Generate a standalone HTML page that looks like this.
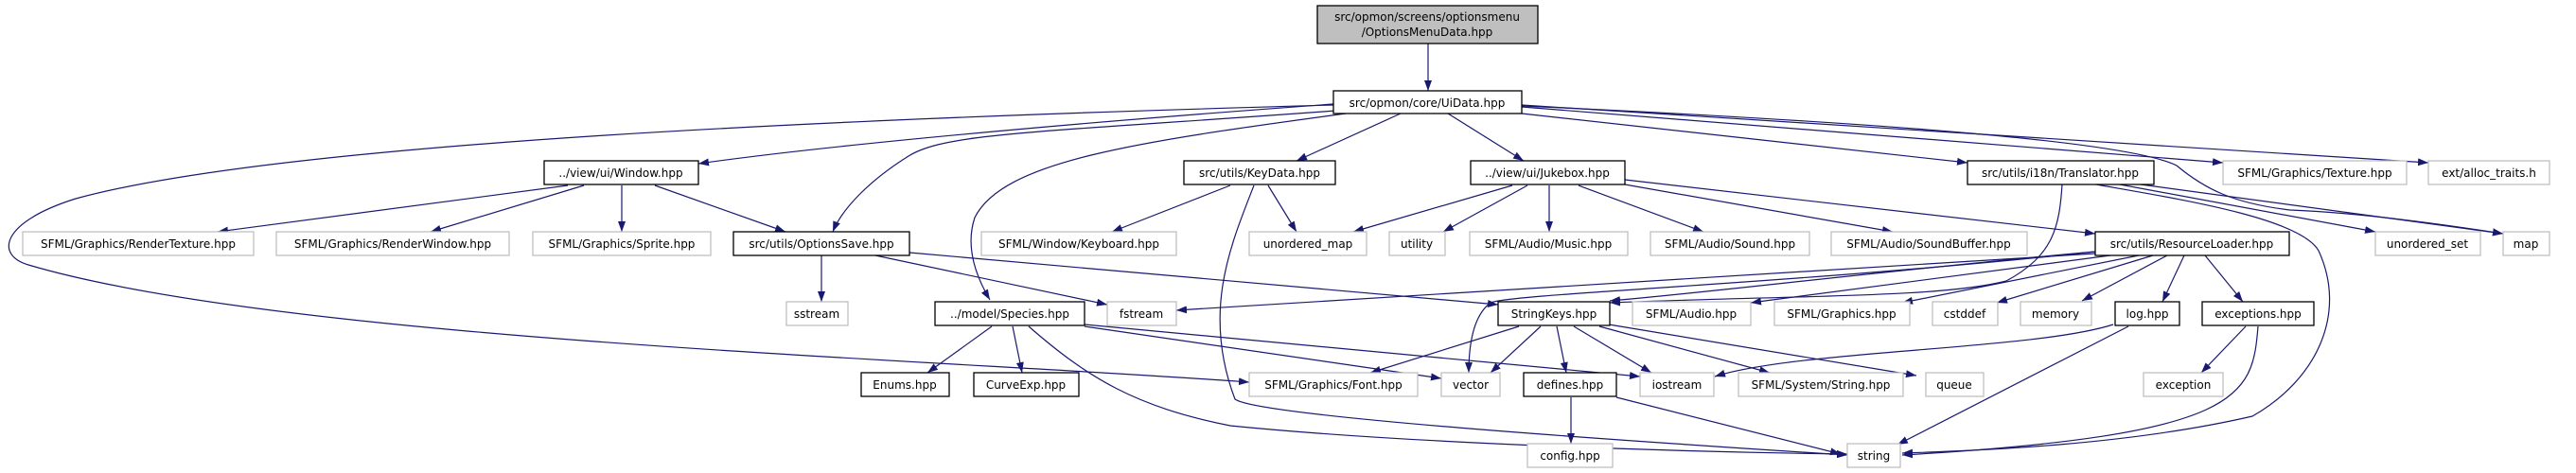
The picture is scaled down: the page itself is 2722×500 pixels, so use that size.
<!DOCTYPE html>
<html><head><meta charset="utf-8"><style>
html,body{margin:0;padding:0;background:#fff}
svg{display:block}
text{font-family:"DejaVu Sans","Liberation Sans",sans-serif;font-size:12px;fill:#000}
.e{fill:none;stroke:#191970;stroke-width:1.2}
.b{fill:#fff;stroke:#000;stroke-width:1.3}
.g{fill:#fff;stroke:#bfbfbf;stroke-width:1.3}
</style></head><body>
<svg width="2722" height="500" viewBox="0 0 2722 500" xmlns="http://www.w3.org/2000/svg">
<defs><marker id="a" markerUnits="userSpaceOnUse" markerWidth="12" markerHeight="10" refX="11" refY="4" orient="auto"><path d="M0,0 L11,4 L0,8 z" fill="#191970"/></marker></defs>
<g class="e" marker-end="url(#a)">
<path d="M1509,46 L1509,96"/>
<path d="M1409,110 C1200,125 900,150 738,173"/>
<path d="M1412,117 C1100,140 1000,140 960,165 C920,190 890,220 880,245"/>
<path d="M1422,120 C1200,150 1060,170 1030,230 C1020,260 1030,290 1046,317"/>
<path d="M1409,111 C900,125 300,150 80,210 C0,235 -5,270 30,280 C300,360 1000,380 1320,404"/>
<path d="M1480,120 L1370,170"/>
<path d="M1530,120 L1610,170"/>
<path d="M1608,120 L2079,172"/>
<path d="M1608,113 L2349,172"/>
<path d="M1608,111 L2566,172"/>
<path d="M1608,112 C2000,130 2250,150 2300,175 C2330,200 2360,215 2420,222 C2500,225 2600,240 2645,247"/>
<path d="M600,196 L230,245"/>
<path d="M617,196 L455,245"/>
<path d="M657,196 L657,245"/>
<path d="M692,196 L830,245"/>
<path d="M1300,196 L1175,245"/>
<path d="M1340,196 L1370,245"/>
<path d="M1325,196 C1300,260 1270,330 1305,422 C1330,440 1700,465 1952,481"/>
<path d="M1598,196 L1430,245"/>
<path d="M1614,196 L1525,245"/>
<path d="M1637,196 L1637,245"/>
<path d="M1668,196 L1800,245"/>
<path d="M1700,192 L2000,245"/>
<path d="M1717,190 L2214,247"/>
<path d="M868,270 L868,319"/>
<path d="M925,270 L1170,322"/>
<path d="M961,267 L1583,322"/>
<path d="M2214,268 L1243,328"/>
<path d="M2214,266 C1900,300 1600,310 1575,320 C1555,335 1552,370 1552,394"/>
<path d="M2214,266 C2000,285 1800,310 1701,318"/>
<path d="M2230,270 L1850,320"/>
<path d="M2260,270 L2010,320"/>
<path d="M2275,270 L2110,320"/>
<path d="M2290,270 L2200,318"/>
<path d="M2308,270 L2285,319"/>
<path d="M2330,270 L2370,319"/>
<path d="M2179,195 C2176,240 2170,270 2120,297 C2050,315 1900,312 1701,320"/>
<path d="M1048,345 L980,394"/>
<path d="M1070,345 L1080,394"/>
<path d="M1146,345 L1523,400"/>
<path d="M1146,343 L1733,398"/>
<path d="M1087,345 C1150,400 1200,430 1300,450 C1500,470 1800,478 1952,480"/>
<path d="M1605,345 L1448,394"/>
<path d="M1628,345 L1575,394"/>
<path d="M1645,345 L1655,394"/>
<path d="M1663,345 L1745,394"/>
<path d="M1690,345 L1870,394"/>
<path d="M1700,343 L2025,397"/>
<path d="M1660,420 L1660,469"/>
<path d="M1708,420 L1945,480"/>
<path d="M2233,343 C2150,370 1900,370 1812,398"/>
<path d="M2249,345 L2005,470"/>
<path d="M2373,345 L2326,394"/>
<path d="M2386,345 C2380,420 2370,460 2010,481"/>
<path d="M2215,195 C2300,210 2430,230 2450,265 C2480,330 2450,400 2380,440 C2250,470 2100,476 2010,479"/>
<path d="M2240,195 L2510,245"/>
<path d="M2262,195 L2645,247"/>
</g>
<rect x="1392" y="6" width="233" height="40" fill="#bfbfbf" stroke="#000" stroke-width="1.3"/>
<text x="1508" y="22" text-anchor="middle">src/opmon/screens/optionsmenu</text>
<text x="1508" y="38" text-anchor="middle">/OptionsMenuData.hpp</text>
<rect class="b" x="1409" y="96" width="199" height="24"/><text x="1508" y="113" text-anchor="middle">src/opmon/core/UiData.hpp</text>
<rect class="b" x="575" y="170" width="163" height="25"/><text x="656" y="187" text-anchor="middle">../view/ui/Window.hpp</text>
<rect class="b" x="1251" y="170" width="160" height="25"/><text x="1331" y="187" text-anchor="middle">src/utils/KeyData.hpp</text>
<rect class="b" x="1554" y="170" width="163" height="25"/><text x="1635" y="187" text-anchor="middle">../view/ui/Jukebox.hpp</text>
<rect class="b" x="2079" y="170" width="197" height="25"/><text x="2177" y="187" text-anchor="middle">src/utils/i18n/Translator.hpp</text>
<rect class="g" x="2349" y="170" width="194" height="25"/><text x="2446" y="187" text-anchor="middle">SFML/Graphics/Texture.hpp</text>
<rect class="g" x="2566" y="170" width="128" height="25"/><text x="2630" y="187" text-anchor="middle">ext/alloc_traits.h</text>
<rect class="g" x="24" y="245" width="244" height="25"/><text x="146" y="262" text-anchor="middle">SFML/Graphics/RenderTexture.hpp</text>
<rect class="g" x="292" y="245" width="246" height="25"/><text x="415" y="262" text-anchor="middle">SFML/Graphics/RenderWindow.hpp</text>
<rect class="g" x="563" y="245" width="188" height="25"/><text x="657" y="262" text-anchor="middle">SFML/Graphics/Sprite.hpp</text>
<rect class="b" x="775" y="245" width="186" height="25"/><text x="868" y="262" text-anchor="middle">src/utils/OptionsSave.hpp</text>
<rect class="g" x="1037" y="245" width="206" height="25"/><text x="1140" y="262" text-anchor="middle">SFML/Window/Keyboard.hpp</text>
<rect class="g" x="1320" y="245" width="124" height="25"/><text x="1382" y="262" text-anchor="middle">unordered_map</text>
<rect class="g" x="1468" y="245" width="59" height="25"/><text x="1497" y="262" text-anchor="middle">utility</text>
<rect class="g" x="1553" y="245" width="167" height="25"/><text x="1636" y="262" text-anchor="middle">SFML/Audio/Music.hpp</text>
<rect class="g" x="1744" y="245" width="168" height="25"/><text x="1828" y="262" text-anchor="middle">SFML/Audio/Sound.hpp</text>
<rect class="g" x="1935" y="245" width="207" height="25"/><text x="2038" y="262" text-anchor="middle">SFML/Audio/SoundBuffer.hpp</text>
<rect class="b" x="2214" y="245" width="205" height="25"/><text x="2316" y="262" text-anchor="middle">src/utils/ResourceLoader.hpp</text>
<rect class="g" x="2510" y="245" width="111" height="25"/><text x="2565" y="262" text-anchor="middle">unordered_set</text>
<rect class="g" x="2645" y="245" width="49" height="25"/><text x="2669" y="262" text-anchor="middle">map</text>
<rect class="g" x="831" y="319" width="65" height="25"/><text x="863" y="336" text-anchor="middle">sstream</text>
<rect class="b" x="988" y="319" width="158" height="25"/><text x="1067" y="336" text-anchor="middle">../model/Species.hpp</text>
<rect class="g" x="1170" y="319" width="73" height="25"/><text x="1206" y="336" text-anchor="middle">fstream</text>
<rect class="b" x="1583" y="319" width="118" height="25"/><text x="1642" y="336" text-anchor="middle">StringKeys.hpp</text>
<rect class="g" x="1725" y="319" width="125" height="25"/><text x="1787" y="336" text-anchor="middle">SFML/Audio.hpp</text>
<rect class="g" x="1875" y="319" width="143" height="25"/><text x="1946" y="336" text-anchor="middle">SFML/Graphics.hpp</text>
<rect class="g" x="2042" y="319" width="69" height="25"/><text x="2076" y="336" text-anchor="middle">cstddef</text>
<rect class="g" x="2135" y="319" width="75" height="25"/><text x="2172" y="336" text-anchor="middle">memory</text>
<rect class="b" x="2235" y="319" width="68" height="25"/><text x="2269" y="336" text-anchor="middle">log.hpp</text>
<rect class="b" x="2327" y="319" width="118" height="25"/><text x="2386" y="336" text-anchor="middle">exceptions.hpp</text>
<rect class="b" x="910" y="394" width="93" height="25"/><text x="956" y="411" text-anchor="middle">Enums.hpp</text>
<rect class="b" x="1029" y="394" width="111" height="25"/><text x="1084" y="411" text-anchor="middle">CurveExp.hpp</text>
<rect class="g" x="1320" y="394" width="178" height="25"/><text x="1409" y="411" text-anchor="middle">SFML/Graphics/Font.hpp</text>
<rect class="g" x="1523" y="394" width="62" height="25"/><text x="1554" y="411" text-anchor="middle">vector</text>
<rect class="b" x="1610" y="394" width="98" height="25"/><text x="1659" y="411" text-anchor="middle">defines.hpp</text>
<rect class="g" x="1733" y="394" width="78" height="25"/><text x="1772" y="411" text-anchor="middle">iostream</text>
<rect class="g" x="1837" y="394" width="174" height="25"/><text x="1924" y="411" text-anchor="middle">SFML/System/String.hpp</text>
<rect class="g" x="2035" y="394" width="61" height="25"/><text x="2065" y="411" text-anchor="middle">queue</text>
<rect class="g" x="2265" y="394" width="84" height="25"/><text x="2307" y="411" text-anchor="middle">exception</text>
<rect class="g" x="1614" y="469" width="90" height="25"/><text x="1659" y="486" text-anchor="middle">config.hpp</text>
<rect class="g" x="1952" y="469" width="56" height="25"/><text x="1980" y="486" text-anchor="middle">string</text>
</svg>
</body></html>
